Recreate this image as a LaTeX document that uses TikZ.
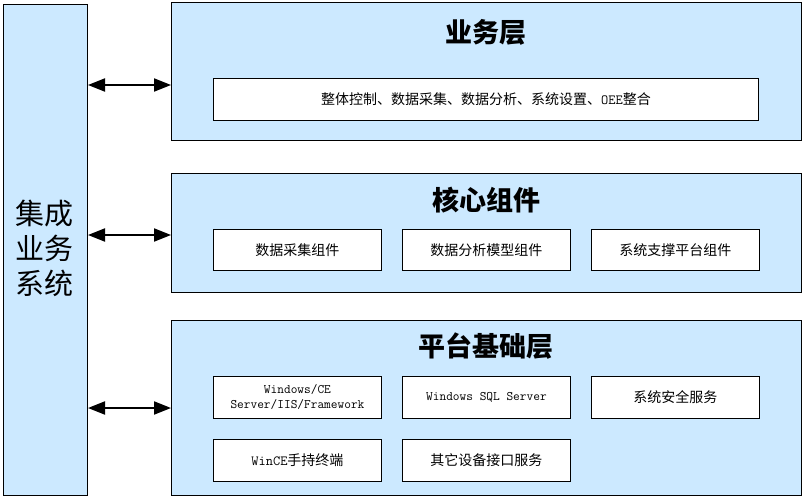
\documentclass[tikz,border=0pt]{standalone}
\usepackage{fontspec}
\setmainfont{Liberation Sans}
\newfontfamily\cjk{Noto Sans CJK SC}
\newfontfamily\monof{Latin Modern Mono}
\usetikzlibrary{arrows.meta}
\definecolor{layerblue}{HTML}{CCE9FF}
\tikzset{
  layer/.style={draw=black, line width=1pt, fill=layerblue},
  inbox/.style={draw=black, line width=0.9pt, fill=white, font=\cjk\fontsize{14}{16}\selectfont, align=center},
  monobox/.style={inbox, font=\monof\fontsize{13}{15}\selectfont},
  title/.style={font=\cjk\bfseries\fontsize{27}{30}\selectfont},
  link/.style={line width=2pt, {Triangle[length=17pt,width=13pt]}-{Triangle[length=17pt,width=13pt]}}
}
\begin{document}
\begin{tikzpicture}[x=1pt,y=-1pt]
\useasboundingbox (0,0) rectangle (805,498);
% left integrated system
\node[layer, minimum width=84pt, minimum height=491pt, inner sep=0pt, anchor=north west] (left) at (3,4) {};
\node[font=\cjk\fontsize{29}{35}\selectfont, align=center] (lefttxt) at (45,248) {集成\\业务\\系统};
% layers
\node[layer, minimum width=630pt, minimum height=138pt, inner sep=0pt, anchor=north west] (L1) at (171,2) {};
\node[layer, minimum width=630pt, minimum height=119pt, inner sep=0pt, anchor=north west] (L2) at (171,173) {};
\node[layer, minimum width=630pt, minimum height=175pt, inner sep=0pt, anchor=north west] (L3) at (171,320) {};
% titles
\node[title] (t1) at (486,32) {业务层};
\node[title] (t2) at (486,200) {核心组件};
\node[title] (t3) at (486,346) {平台基础层};
% top inner
\node[inbox, minimum width=545pt, minimum height=42pt, inner sep=0pt, anchor=north west] (b1) at (213,78) {整体控制、数据采集、数据分析、系统设置、{\monof OEE}整合};
% middle
\node[inbox, minimum width=168pt, minimum height=41pt, inner sep=0pt, anchor=north west] (c1) at (213,229) {数据采集组件};
\node[inbox, minimum width=168pt, minimum height=41pt, inner sep=0pt, anchor=north west] (c2) at (402,229) {数据分析模型组件};
\node[inbox, minimum width=168pt, minimum height=41pt, inner sep=0pt, anchor=north west] (c3) at (591,229) {系统支撑平台组件};
% bottom
\node[monobox, minimum width=168pt, minimum height=42pt, inner sep=0pt, anchor=north west] (p1) at (213,376) {Windows/CE\\Server/IIS/Framework};
\node[monobox, minimum width=168pt, minimum height=42pt, inner sep=0pt, anchor=north west] (p2) at (402,376) {Windows SQL Server};
\node[inbox, minimum width=168pt, minimum height=42pt, inner sep=0pt, anchor=north west] (p3) at (591,376) {系统安全服务};
\node[inbox, minimum width=168pt, minimum height=42pt, inner sep=0pt, anchor=north west] (p4) at (213,439) {{\monof WinCE}手持终端};
\node[inbox, minimum width=168pt, minimum height=42pt, inner sep=0pt, anchor=north west] (p5) at (402,439) {其它设备接口服务};
% arrows
\coordinate (a1l) at (left.east |- 0,85);
\coordinate (a1r) at (L1.west |- 0,85);
\coordinate (a2l) at (left.east |- 0,235);
\coordinate (a2r) at (L2.west |- 0,235);
\coordinate (a3l) at (left.east |- 0,408);
\coordinate (a3r) at (L3.west |- 0,408);
\draw[link] (a1l) -- (a1r);
\draw[link] (a2l) -- (a2r);
\draw[link] (a3l) -- (a3r);
\end{tikzpicture}
\end{document}
